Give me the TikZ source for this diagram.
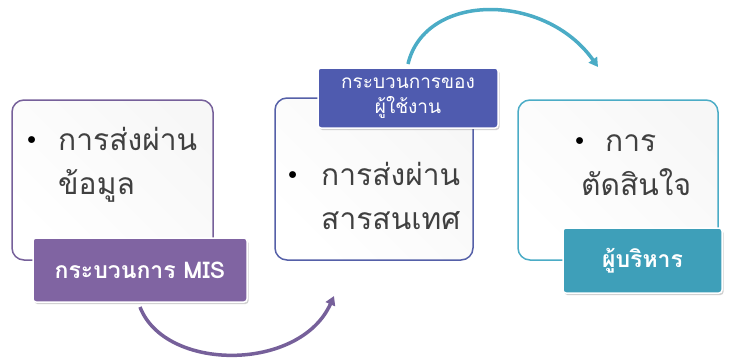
\documentclass[tikz,border=0pt]{standalone}
\usepackage{fontspec}
\newfontfamily\thaifont[Script=Thai]{Loma}
\usetikzlibrary{arrows.meta,shadows}
\definecolor{pur}{HTML}{8064A2}
\definecolor{purd}{HTML}{76609A}
\definecolor{blu}{HTML}{4F5BAF}
\definecolor{blud}{HTML}{5560A8}
\definecolor{tea}{HTML}{4BACC6}
\definecolor{tead}{HTML}{3E9FB9}
\definecolor{txt}{HTML}{404040}
\tikzset{
  card/.style={draw=#1, line width=1.5pt, rounded corners=12pt, left color=white, right color=black!3, shading angle=135, inner sep=0pt},
  tag/.style={fill=#1, draw=white, line width=1.5pt, rounded corners=3pt, inner sep=0pt, align=center, text=white,
    drop shadow={shadow xshift=1.5pt, shadow yshift=-2pt, opacity=0.3, fill=black!60}},
  bigtxt/.style={anchor=base west, inner sep=0pt, text=txt, font=\thaifont\fontsize{30}{36}\selectfont},
  dot/.style={anchor=base west, inner sep=0pt, text=black, font=\thaifont\fontsize{20}{24}\selectfont},
  arc/.style={draw=#1, line width=3.5pt, -{Triangle[length=9pt,width=10pt]}},
}
\begin{document}
\begin{tikzpicture}[x=1pt,y=-1pt]
\useasboundingbox (0,0) rectangle (731,360);
% connectors
\coordinate (a1) at (140,307);
\coordinate (a2) at (334,296);
\coordinate (b1) at (408,64);
\coordinate (b2) at (598,67);
\draw[arc=purd] (a1) .. controls (165,372) and (300,372) .. (a2);
\draw[arc=tea] (b1) .. controls (425,-8) and (545,-8) .. (b2);
% cards
\node[card=purd, minimum width=201pt, minimum height=160pt] (c1) at (112.5,180) {};
\node[card=blud, minimum width=198pt, minimum height=162pt] (c2) at (374,179) {};
\node[card=tea, minimum width=200pt, minimum height=160pt] (c3) at (618,180) {};
% texts
\node[dot] (t1b) at (27,146) {•};
\node[bigtxt] (t1a) at (58,150) {การส่งผ่าน};
\node[bigtxt] (t1c) at (58,194) {ข้อมูล};
\node[dot] (t2b) at (288,181) {•};
\node[bigtxt] (t2a) at (321,185) {การส่งผ่าน};
\node[bigtxt] (t2c) at (321,229) {สารสนเทศ};
\node[dot] (t3b) at (575,147) {•};
\node[bigtxt] (t3a) at (605,151) {การ};
\node[bigtxt] (t3c) at (581,195) {ตัดสินใจ};
% tags
\node[tag=pur, minimum width=214pt, minimum height=64pt, font=\thaifont\bfseries\fontsize{23}{26}\selectfont] (g1) at (140,270) {กระบวนการ MIS};
\node[tag=blu, minimum width=180pt, minimum height=60pt, font=\thaifont\fontsize{19}{25}\selectfont] (g2) at (408,98) {กระบวนการของ\\ผู้ใช้งาน};
\node[tag=tead, minimum width=159pt, minimum height=65pt, font=\thaifont\bfseries\fontsize{23}{26}\selectfont] (g3) at (642.5,260.5) {ผู้บริหาร};
\end{tikzpicture}
\end{document}
